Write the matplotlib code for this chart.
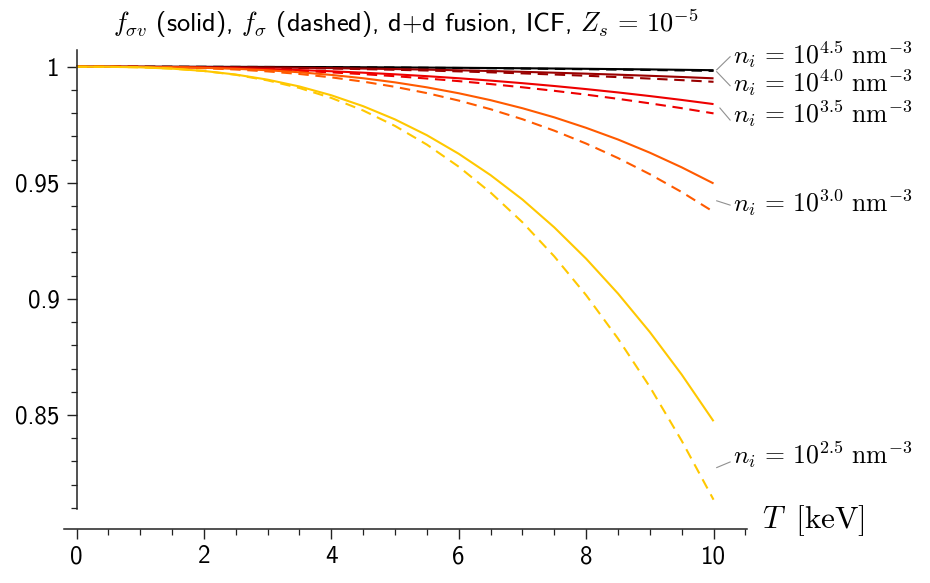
import matplotlib
matplotlib.use("Agg")
import matplotlib.pyplot as plt
from matplotlib.ticker import FixedLocator, MultipleLocator, FuncFormatter

plt.rcParams['mathtext.fontset'] = 'cm'
plt.rcParams['axes.unicode_minus'] = False

# ---- data ----
T = [0, 0.5, 1, 1.5, 2, 2.5, 3, 3.5, 4, 4.5, 5, 5.5, 6, 6.5, 7, 7.5, 8, 8.5, 9, 9.5, 10]

density_labels = ["4.5", "4.0", "3.5", "3.0", "2.5"]
colors = ["#000000", "#990000", "#ee0000", "#ff5a00", "#ffc800"]

f_sigmav = {
    "4.5": [1.0, 1.0, 0.99999, 0.99998, 0.99996, 0.99994, 0.99991, 0.99987, 0.99982, 0.99976, 0.9997,
            0.99962, 0.99954, 0.99944, 0.99934, 0.99923, 0.9991, 0.99897, 0.99883, 0.99867, 0.9985],
    "4.0": [1.0, 0.999995, 0.999975, 0.99994, 0.99988, 0.99979, 0.99969, 0.99955, 0.99939, 0.9992, 0.99899,
            0.99874, 0.99846, 0.99815, 0.9978, 0.99742, 0.99701, 0.99657, 0.99608, 0.99557, 0.995],
    "3.5": [1.0, 0.99998, 0.99992, 0.99979, 0.9996, 0.99934, 0.99899, 0.99856, 0.99804, 0.99743, 0.99673,
            0.99593, 0.99503, 0.99402, 0.99291, 0.99169, 0.99036, 0.98892, 0.98736, 0.98569, 0.9839],
    "3.0": [1.0, 0.99999, 0.99994, 0.99979, 0.99953, 0.9991, 0.99847, 0.99761, 0.99647, 0.99504, 0.99326,
            0.99112, 0.98857, 0.98559, 0.98212, 0.97819, 0.97367, 0.96865, 0.96297, 0.95666, 0.94972],
    "2.5": [1.0, 0.99996, 0.99973, 0.99917, 0.99817, 0.99663, 0.99443, 0.99149, 0.9877, 0.983, 0.9773,
            0.9705, 0.9625, 0.9533, 0.9428, 0.9308, 0.9173, 0.9023, 0.8857, 0.8674, 0.8473],
}
f_sigma = {
    "4.5": [1.0, 1.0, 0.99999, 0.99998, 0.99996, 0.99993, 0.99989, 0.99984, 0.99978, 0.99971, 0.99964,
            0.99955, 0.99945, 0.99933, 0.99921, 0.99907, 0.99892, 0.99876, 0.99859, 0.9984, 0.9982],
    "4.0": [1.0, 0.99999, 0.99997, 0.99992, 0.99984, 0.99973, 0.99959, 0.99942, 0.99921, 0.99896, 0.99868,
            0.99836, 0.99799, 0.99758, 0.99713, 0.99664, 0.99611, 0.99552, 0.99489, 0.99422, 0.9935],
    "3.5": [1.0, 0.99998, 0.9999, 0.99974, 0.9995, 0.99917, 0.99874, 0.9982, 0.99756, 0.9968, 0.99592,
            0.99492, 0.99379, 0.99253, 0.99114, 0.98962, 0.98797, 0.98617, 0.98422, 0.98214, 0.9799],
    "3.0": [1.0, 0.99999, 0.99991, 0.99972, 0.99936, 0.9988, 0.99798, 0.99687, 0.99541, 0.99358, 0.99133,
            0.98863, 0.98542, 0.98169, 0.97739, 0.97245, 0.9669, 0.96066, 0.9537, 0.94601, 0.9375],
    "2.5": [1.0, 0.99997, 0.99975, 0.99919, 0.99816, 0.99651, 0.99411, 0.99083, 0.98656, 0.98115, 0.97448,
            0.96645, 0.95693, 0.9458, 0.933, 0.9183, 0.9016, 0.8829, 0.8621, 0.8389, 0.8135],
}

# label placement (data coords): text baseline y, connector start/end y
label_text_y = [1.0012, 0.98922, 0.97573, 0.9375, 0.8292]
conn_start_y = [0.99867, 0.99784, 0.9822, 0.94224, 0.82733]
conn_end_y = [1.0043, 0.99181, 0.97703, 0.94039, 0.82974]
conn_start_x = [10.05, 10.05, 10.1, 10.05, 10.05]

y_major = [0.85, 0.9, 0.95, 1.0]

fig = plt.figure(figsize=(9.3, 5.83), dpi=100)
ax = fig.add_axes([64.4 / 930, (583 - 528.7) / 583, (747.3 - 64.4) / 930, (528.7 - 50) / 583])

for lab, c in zip(density_labels, colors):
    ax.plot(T, f_sigmav[lab], color=c, lw=1.5, solid_capstyle='butt', solid_joinstyle='round')
    ax.plot(T, f_sigma[lab], color=c, lw=1.5, ls=(0, (5, 3.2)))

for i, lab in enumerate(density_labels):
    ax.plot([conn_start_x[i], 10.26], [conn_start_y[i], conn_end_y[i]], color='#909090', lw=0.8,
            clip_on=False)
    ax.text(10.31, label_text_y[i], r"$n_i\,=\,10^{%s}\ \mathrm{nm}^{-3}$" % lab, fontsize=18.5,
            ha='left', va='baseline', clip_on=False)

ax.set_xlim(-0.19, 10.53)
ax.set_ylim(0.801, 1.0072)

for s in ['top', 'right']:
    ax.spines[s].set_visible(False)
ax.spines['left'].set_position(('data', 0))
ax.spines['left'].set_bounds(0.8097, 1.0072)
for s in ['left', 'bottom']:
    ax.spines[s].set_linewidth(1.1)
    ax.spines[s].set_color('#222222')

ax.xaxis.set_major_locator(FixedLocator([0, 2, 4, 6, 8, 10]))
ax.xaxis.set_minor_locator(MultipleLocator(0.5))
ax.yaxis.set_major_locator(FixedLocator(y_major))
ax.yaxis.set_minor_locator(FixedLocator([0.81, 0.82, 0.83, 0.84, 0.86, 0.87, 0.88, 0.89, 0.91, 0.92,
                                         0.93, 0.94, 0.96, 0.97, 0.98, 0.99]))
ax.yaxis.set_major_formatter(FuncFormatter(lambda v, p: "%g" % round(v, 4)))
ax.tick_params(which='major', direction='out', length=7, width=1.0, color='#222222',
               labelsize=18, pad=5)
ax.tick_params(which='minor', direction='out', length=4, width=0.9, color='#222222')
for lbl in ax.get_xticklabels() + ax.get_yticklabels():
    lbl.set_fontfamily('cmss10')

ax.text(10.76, 0.8012, r"$T\;\;\mathrm{[keV]}$", fontsize=22.5, ha='left', va='baseline',
        clip_on=False)

ax.set_title(r"$f_{\sigma v}$ (solid), $f_{\sigma}$ (dashed), d+d fusion, ICF, $Z_s\,=\,10^{-5}$",
             fontsize=19, family='cmss10', pad=13)

fig.savefig("out.png", dpi=100)
